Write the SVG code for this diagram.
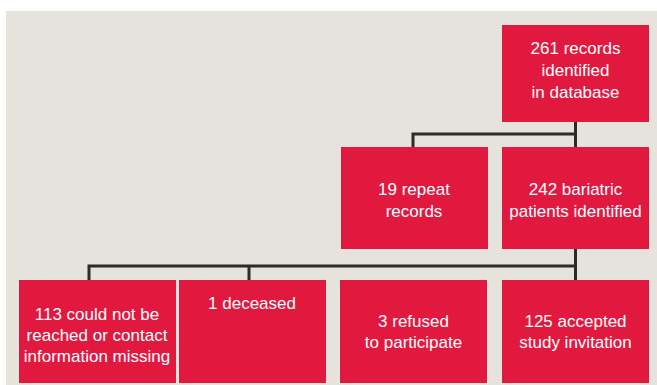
<svg xmlns="http://www.w3.org/2000/svg" width="657" height="385" viewBox="0 0 657 385">
<style>
.bx{fill:#e2193f}
.t{font-family:"Liberation Sans",Arial,sans-serif;font-size:17px;fill:#ffffff;text-anchor:middle}
.c{fill:none;stroke:#2b2b2b;stroke-width:3}
</style>
<rect x="0" y="0" width="657" height="385" fill="#ffffff"/>
<rect x="6" y="11" width="651" height="374" fill="#e6e3dd"/>
<g id="connectors">
<path class="c" d="M575.5 122V280M413 147V134H577"/>
<path class="c" d="M89 280V266H577M249 266V280"/>
</g>
<g id="n261"><rect class="bx" x="502" y="25" width="147" height="97"/>
<text class="t" x="575.5" y="54">261 records</text><text class="t" x="575.5" y="76">identified</text><text class="t" x="575.5" y="98">in database</text></g>
<g id="n19"><rect class="bx" x="341" y="147" width="147" height="102"/>
<text class="t" x="414" y="195">19 repeat</text><text class="t" x="414" y="217">records</text></g>
<g id="n242"><rect class="bx" x="502" y="147" width="147" height="102"/>
<text class="t" x="575.5" y="195">242 bariatric</text><text class="t" x="575.5" y="217">patients identified</text></g>
<g id="n113"><rect class="bx" x="19" y="280" width="157" height="103"/>
<text class="t" x="97" y="320">113 could not be</text><text class="t" x="97" y="341">reached or contact</text><text class="t" x="97" y="362">information missing</text></g>
<g id="n1"><rect class="bx" x="179" y="280" width="147" height="103"/>
<text class="t" x="252" y="309">1 deceased</text></g>
<g id="n3"><rect class="bx" x="340" y="280" width="147" height="103"/>
<text class="t" x="413.5" y="327">3 refused</text><text class="t" x="413.5" y="348">to participate</text></g>
<g id="n125"><rect class="bx" x="502" y="280" width="147" height="103"/>
<text class="t" x="575.5" y="327">125 accepted</text><text class="t" x="575.5" y="348">study invitation</text></g>
</svg>
